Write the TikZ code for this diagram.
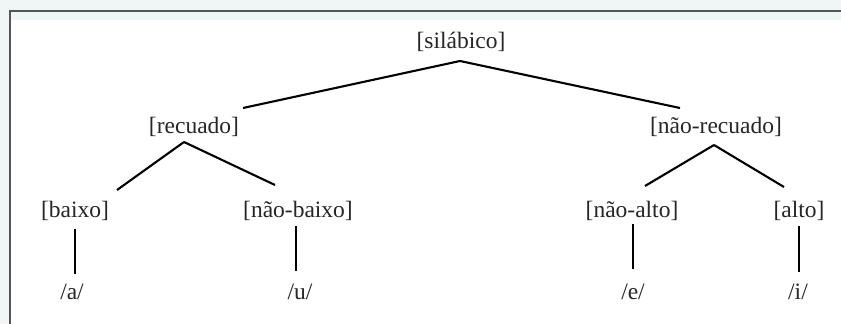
\documentclass[tikz,border=0pt]{standalone}
\usepackage{fontspec}
\setmainfont{Liberation Serif}
\definecolor{outerbg}{HTML}{F0F5F5}
\definecolor{framec}{HTML}{555555}
\tikzset{
  lab/.style={inner sep=0pt, font=\fontsize{23.5}{28}\selectfont, text=black!85},
  edge/.style={line width=2.1pt, black},
}
\begin{document}
\begin{tikzpicture}[x=1pt,y=-1pt]
\useasboundingbox (0,0) rectangle (841,324);
\fill[outerbg] (0,0) rectangle (841,324);
\fill[white] (11,20) rectangle (841,324);
\fill[outerbg] (11,12) rectangle (841,20);
\draw[framec, line width=1.6pt] (10,324) -- (10,11) -- (841,11);
% nodes
\node[lab] (sil) at (461,42) {[silábico]};
\node[lab] (rec) at (194,127) {[recuado]};
\node[lab] (nrec) at (716,127) {[não-recuado]};
\node[lab] (bai) at (75,211) {[baixo]};
\node[lab] (nbai) at (298,211) {[não-baixo]};
\node[lab] (nalt) at (632,211) {[não-alto]};
\node[lab] (alt) at (799,211) {[alto]};
\node[lab] (a) at (72,292) {/a/};
\node[lab] (u) at (300,292) {/u/};
\node[lab] (e) at (633,292) {/e/};
\node[lab] (i) at (798,292) {/i/};
% connector end points
\coordinate (silb) at (460,61);
\coordinate (rect) at (243,108);
\coordinate (nrect) at (680,108);
\coordinate (recb) at (184,142);
\coordinate (bait) at (117,190);
\coordinate (nbait) at (275,185);
\coordinate (nrecb) at (714,145);
\coordinate (nalt-t) at (645,186);
\coordinate (alt-t) at (784,187);
\coordinate (baib) at (75,229);
\coordinate (at) at (75,274);
\coordinate (nbaib) at (296,226);
\coordinate (ut) at (296,271);
\coordinate (naltb) at (633,224);
\coordinate (et) at (633,269);
\coordinate (altb) at (799,226);
\coordinate (it) at (799,272);
% connectors
\draw[edge] (silb) -- (rect);
\draw[edge] (silb) -- (nrect);
\draw[edge] (recb) -- (bait);
\draw[edge] (recb) -- (nbait);
\draw[edge] (nrecb) -- (nalt-t);
\draw[edge] (nrecb) -- (alt-t);
\draw[edge] (baib) -- (at);
\draw[edge] (nbaib) -- (ut);
\draw[edge] (naltb) -- (et);
\draw[edge] (altb) -- (it);
\end{tikzpicture}
\end{document}
